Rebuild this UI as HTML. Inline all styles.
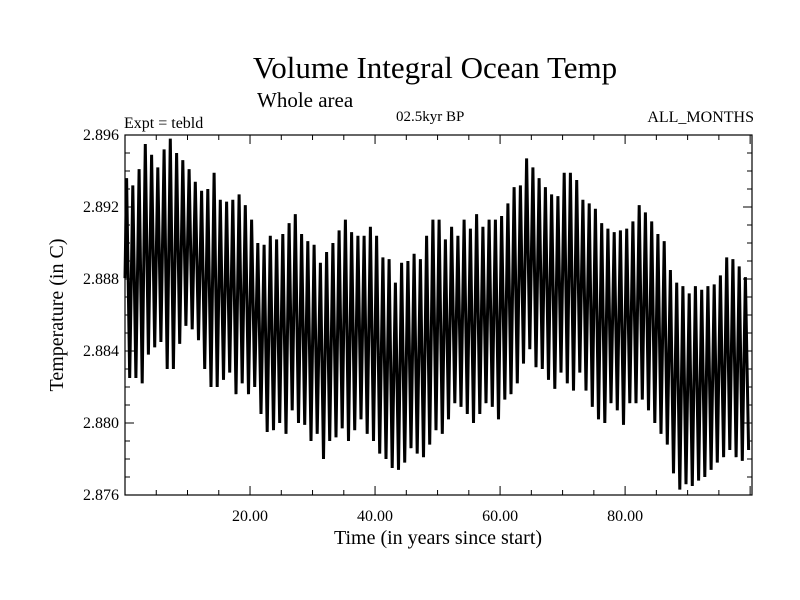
<!DOCTYPE html>
<html><head><meta charset="utf-8"><style>
html,body{margin:0;padding:0;background:#fff;}
svg{display:block;font-family:"Liberation Serif",serif;}
</style></head><body>
<svg id="chart" width="800" height="600">
<text x="435" y="78" font-size="31" text-anchor="middle">Volume Integral Ocean Temp</text>
<text x="257" y="107" font-size="21">Whole area</text>
<text x="396" y="121" font-size="15">02.5kyr BP</text>
<text x="754" y="122" font-size="16" text-anchor="end">ALL_MONTHS</text>
<text x="124" y="128" font-size="16">Expt = tebld</text>
<text x="438" y="544" font-size="20" text-anchor="middle">Time (in years since start)</text>
<text transform="translate(63,315) rotate(-90)" font-size="20" text-anchor="middle">Temperature (in C)</text>
<g id="ticks"></g>
<path id="series" fill="none" stroke="#000" stroke-width="3" stroke-linejoin="miter"></path>
<rect x="125" y="135" width="627" height="360" fill="none" stroke="#000" stroke-width="1.2"></rect>
</svg>
<script>
const yearMax=[2.8936,2.8932,2.8941,2.8955,2.8949,2.8942,2.8952,2.8958,2.8950,2.8946,2.8941,2.8934,2.8929,2.8930,2.8939,2.8924,2.8923,2.8924,2.8927,2.8921,2.8913,2.8900,2.8899,2.8904,2.8902,2.8905,2.8911,2.8916,2.8905,2.8901,2.8899,2.8889,2.8895,2.8900,2.8907,2.8913,2.8906,2.8904,2.8904,2.8909,2.8904,2.8892,2.8891,2.8878,2.8889,2.8890,2.8894,2.8891,2.8904,2.8913,2.8913,2.8902,2.8909,2.8904,2.8913,2.8908,2.8916,2.8909,2.8913,2.8913,2.8915,2.8922,2.8931,2.8932,2.8947,2.8942,2.8936,2.8931,2.8927,2.8926,2.8939,2.8939,2.8935,2.8924,2.8922,2.8919,2.8911,2.8908,2.8906,2.8907,2.8908,2.8912,2.8921,2.8917,2.8912,2.8905,2.8901,2.8885,2.8878,2.8876,2.8872,2.8876,2.8874,2.8876,2.8877,2.8882,2.8892,2.8891,2.8887,2.8881];
const yearMin=[2.8825,2.8825,2.8822,2.8838,2.8842,2.8845,2.8830,2.8830,2.8844,2.8854,2.8852,2.8846,2.8830,2.8820,2.8820,2.8824,2.8828,2.8816,2.8822,2.8816,2.8820,2.8805,2.8795,2.8796,2.8800,2.8794,2.8807,2.8800,2.8799,2.8790,2.8794,2.8780,2.8790,2.8792,2.8797,2.8790,2.8796,2.8802,2.8794,2.8790,2.8783,2.8780,2.8775,2.8774,2.8778,2.8786,2.8783,2.8781,2.8788,2.8796,2.8794,2.8802,2.8811,2.8809,2.8805,2.8800,2.8805,2.8811,2.8809,2.8802,2.8813,2.8816,2.8822,2.8833,2.8841,2.8831,2.8830,2.8824,2.8819,2.8828,2.8822,2.8818,2.8828,2.8818,2.8809,2.8802,2.8800,2.8811,2.8807,2.8799,2.8811,2.8811,2.8813,2.8807,2.8800,2.8794,2.8788,2.8772,2.8763,2.8766,2.8765,2.8768,2.8770,2.8774,2.8778,2.8781,2.8785,2.8781,2.8779,2.8785];
const xTickLabels=["20.00","40.00","60.00","80.00"];
const yTickLabels=["2.876","2.880","2.884","2.888","2.892","2.896"];
const X0=125,X1=752,Y0=495,Y1=135,xMin=0,xMax=100.3,yMin=2.876,yMax=2.896;
function sx(v){return X0+(v-xMin)/(xMax-xMin)*(X1-X0);}
function sy(v){return Y0-(v-yMin)/(yMax-yMin)*(Y0-Y1);}
const NS="http://www.w3.org/2000/svg";
const tg=document.getElementById('ticks');
function line(x1,y1,x2,y2,name){const l=document.createElementNS(NS,'line');l.setAttribute('x1',x1);l.setAttribute('y1',y1);l.setAttribute('x2',x2);l.setAttribute('y2',y2);l.setAttribute('stroke','#000');l.setAttribute('stroke-width','1');


tg.appendChild(l);}
function text(x,y,s,anchor,name){const t=document.createElementNS(NS,'text');t.setAttribute('x',x);t.setAttribute('y',y);t.setAttribute('font-size','16');t.setAttribute('text-anchor',anchor);t.textContent=s;


tg.appendChild(t);}
for(let v=5;v<xMax;v+=5){const x=sx(v);const major=(v%20===0);const L=major?9:5;
line(x,Y0,x,Y0-L,'x-tick');line(x,Y1,x,Y1+L,'x-tick-top');}
xTickLabels.forEach(s=>{text(sx(parseFloat(s)),Y0+26,s,'middle','x-tick-label');});
for(let i=0;i<=20;i++){const v=yMin+i*0.001;const y=sy(v);const major=(i%4===0);const L=major?9:5;
line(X0,y,X0+L,y,'y-tick');line(X1,y,X1-L,y,'y-tick-right');}
yTickLabels.forEach(s=>{text(X0-6,sy(parseFloat(s))+5,s,'end','y-tick-label');});
let d='';
for(let i=0;i<yearMax.length;i++){
  const xa=sx(i+0.25),xb=sx(i+0.75);
  d+=(i===0?'M'+sx(0).toFixed(1)+','+sy((yearMax[0]+yearMin[0])/2).toFixed(1):'')+'L'+xa.toFixed(1)+','+sy(yearMax[i]).toFixed(1)+'L'+xb.toFixed(1)+','+sy(yearMin[i]).toFixed(1);
}
document.getElementById('series').setAttribute('d',d);
</script>
</body></html>
